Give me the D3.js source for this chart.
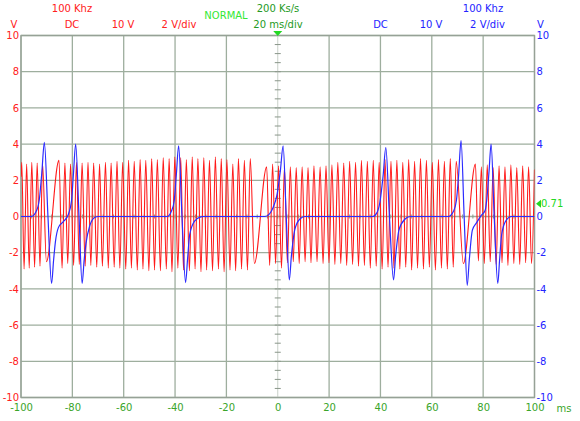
<!DOCTYPE html>
<html>
<head>
<meta charset="utf-8">
<script src="https://cdn.jsdelivr.net/npm/d3@7"></script>
<style>
  body { margin: 0; background: #fff; }
  svg { display: block; font-family: "DejaVu Sans", Verdana, sans-serif; font-size: 10px; }
</style>
</head>
<body>
<svg width="580" height="421"></svg>
<script>
// ticks
var voltTicks = [-10, -8, -6, -4, -2, 0, 2, 4, 6, 8, 10];
var timeTicks = [-100, -80, -60, -40, -20, 0, 20, 40, 60, 80, 100];

// channel 1 (red) - peaks and troughs, [ms, V]
var redTrace = [
  [-100, 2.2], [-99.7, 3.0], [-98.8, -2.9], [-97.8, 2.9], [-96.8, -2.85], [-95.8, 3.0],
  [-94.7, -2.8], [-93.7, 2.95], [-92.6, -2.75], [-91.6, 2.9], [-90.1, -2.5],
  [-85.2, 3.1], [-84.0, -2.85], [-82.9, 2.95], [-81.8, -2.6], [-80.7, 2.9], [-79.5, -2.7],
  [-78.4, 3.0], [-77.3, -2.65], [-76.2, 2.95], [-75.0, -2.75], [-73.9, 3.0], [-72.8, -2.7],
  [-71.7, 2.95], [-70.5, -2.8], [-69.4, 2.9], [-68.3, -2.75], [-67.1, 3.0], [-66.0, -2.85],
  [-64.9, 2.95], [-63.7, -2.8], [-62.6, 3.05], [-61.5, -2.85], [-60.4, 3.0], [-59.2, -2.9],
  [-58.1, 3.1], [-57.0, -2.85], [-55.9, 3.05], [-54.7, -2.95], [-53.6, 3.15], [-52.5, -2.9],
  [-51.4, 3.1], [-50.2, -3.0], [-49.1, 3.2], [-48.0, -2.95], [-46.9, 3.15], [-45.7, -3.0],
  [-44.6, 3.25], [-43.4, -2.9], [-42.3, 3.2], [-41.2, -3.05], [-40.1, 3.3], [-38.9, -2.85],
  [-37.8, 3.25], [-36.7, -2.95], [-35.6, 3.15], [-34.4, -3.0], [-33.3, 3.3], [-32.2, -2.9],
  [-31.1, 3.2], [-29.9, -3.05], [-28.8, 3.25], [-27.7, -2.95], [-26.6, 3.1], [-25.4, -3.0],
  [-24.3, 3.3], [-23.1, -2.9], [-22.0, 3.2], [-20.9, -3.05], [-19.8, 3.15], [-18.6, -2.95],
  [-17.5, 2.9], [-16.4, -3.0], [-15.3, 3.2], [-14.1, -2.9], [-13.0, 3.1], [-11.8, -2.95],
  [-10.7, 3.2], [-9.1, -2.6],
  [-4.3, 2.75], [-3.15, -2.7], [-2.0, 2.9], [-0.85, -2.6], [0.3, 2.8], [1.45, -2.85],
  [2.6, 2.7], [3.75, -2.55], [4.9, 2.75], [6.05, -2.5], [7.2, 2.7], [8.35, -2.6],
  [9.5, 2.75], [10.65, -2.5], [11.8, 2.7], [12.95, -2.55], [14.1, 2.8], [15.3, -2.5],
  [16.5, 2.75], [17.65, -2.6], [18.8, 2.8], [19.95, -2.55], [21.1, 2.85], [22.25, -2.65],
  [23.4, 3.0], [24.55, -2.6], [25.7, 2.95], [26.85, -2.7], [28.0, 3.05], [29.15, -2.65],
  [30.3, 3.0], [31.45, -2.75], [32.6, 3.1], [33.75, -2.7], [34.9, 3.05], [36.05, -2.85],
  [37.2, 3.1], [38.35, -2.75], [39.5, 3.0], [40.65, -2.9], [41.8, 3.15], [42.95, -2.8],
  [44.1, 3.05], [45.25, -2.85], [46.4, 3.1], [47.55, -2.9], [48.7, 3.0], [49.85, -2.8],
  [51.0, 3.15], [52.15, -2.95], [53.3, 3.05], [54.45, -2.85], [55.6, 3.2], [56.75, -2.9],
  [57.9, 3.1], [59.05, -2.8], [60.2, 3.0], [61.4, -2.95], [62.6, 3.15], [63.75, -2.85],
  [64.9, 3.05], [66.05, -2.9], [67.2, 3.2], [68.35, -2.8], [69.5, 3.05], [72.3, -2.6],
  [77.0, 2.9], [78.15, -2.45], [79.3, 2.75], [80.45, -2.6], [81.6, 2.85], [82.75, -2.5],
  [83.9, 2.7], [85.05, -2.65], [86.2, 2.8], [87.35, -2.55], [88.5, 2.75], [89.65, -2.7],
  [90.8, 2.85], [91.95, -2.6], [93.1, 2.7], [94.25, -2.65], [95.4, 2.8], [96.55, -2.55],
  [97.7, 2.75], [98.85, -2.6], [100, 2.6]
];

// channel 2 (blue) - spikes, [ms, V]
var blueTrace = [
  [-100, 0], [-96, 0], [-94.2, 0.25], [-92.9, 0.9], [-91.9, 2.4], [-90.9, 4.1], [-89.5, 0],
  [-88.1, -3.7], [-87.3, -2.4], [-86.6, -1.4], [-85.4, -0.6], [-83.6, -0.3], [-81.6, 0.1],
  [-80.3, 0.9], [-79.6, 2.3], [-78.7, 4.0], [-77.4, 0], [-76.2, -3.7], [-75.4, -2.4],
  [-74.7, -1.5], [-73.2, -0.5], [-71.3, -0.05], [-70, 0],
  [-43, 0], [-41.4, 0.3], [-40.3, 0.9], [-39.5, 2.3], [-38.6, 3.9], [-37.3, 0], [-35.9, -3.65],
  [-35.1, -2.3], [-34.3, -1.0], [-32.4, -0.25], [-30, -0.02], [-29, 0],
  [-5, 0], [-3.2, 0.15], [-1.8, 0.5], [-0.3, 1.2], [1.0, 2.5], [2.1, 3.9], [3.3, 0],
  [4.5, -3.5], [5.3, -2.2], [6.6, -0.75], [8.5, -0.15], [10.5, 0],
  [37, 0], [38.6, 0.2], [39.8, 0.8], [41.0, 2.2], [42.1, 3.8], [43.5, 0], [45.1, -3.5],
  [45.9, -2.2], [47.2, -0.75], [49.5, -0.15], [51.5, 0],
  [66.5, 0], [68.5, 0.3], [69.6, 0.9], [70.4, 2.2], [71.4, 4.2], [72.6, 0], [73.8, -3.8],
  [74.6, -2.4], [75.8, -0.75], [77.4, -0.35], [79.2, 0.05], [80.8, 0.35], [81.6, 1.2],
  [82.3, 2.5], [83.1, 4.0], [84.3, 0], [85.7, -3.7], [86.4, -2.4], [87.2, -1.0],
  [89, -0.2], [91, 0], [100, 0]
];

var triggerLevel = 0.71;

var svg = d3.select("svg");

var x = d3.scaleLinear().domain([-100, 100]).range([21, 534.5]);
var y = d3.scaleLinear().domain([-10, 10]).range([397.5, 35.5]);

// plain hyphen for negative numbers, like the scope screen
var plain = function(d) { return String(d); };

// GRID
var grid = svg.append("g").attr("class", "grid");

grid.selectAll(".vline")
  .data(timeTicks.filter(function(d) { return d != 0; }))
  .enter().append("line")
  .attr("x1", function(d) { return x(d); })
  .attr("x2", function(d) { return x(d); })
  .attr("y1", y(10)).attr("y2", y(-10))
  .attr("stroke", "#9eae9e").attr("stroke-width", 1.3);

grid.selectAll(".hline")
  .data(voltTicks)
  .enter().append("line")
  .attr("x1", x(-100)).attr("x2", x(100))
  .attr("y1", function(d) { return y(d); })
  .attr("y2", function(d) { return y(d); })
  .attr("stroke", "#9eae9e").attr("stroke-width", 1.3);

// centre vertical line with minor ticks
grid.append("line")
  .attr("x1", x(0)).attr("x2", x(0))
  .attr("y1", y(10)).attr("y2", y(-10))
  .attr("stroke", "#c8d0c8").attr("stroke-width", 1);

grid.selectAll(".vtick")
  .data(d3.range(-10, 10.01, 0.5))
  .enter().append("line")
  .attr("x1", x(0) - 3).attr("x2", x(0) + 3)
  .attr("y1", function(d) { return y(d); })
  .attr("y2", function(d) { return y(d); })
  .attr("stroke", "#8a968a").attr("stroke-width", 1);

grid.selectAll(".htick")
  .data(d3.range(-100, 100.01, 4))
  .enter().append("line")
  .attr("x1", function(d) { return x(d); })
  .attr("x2", function(d) { return x(d); })
  .attr("y1", y(0) - 2).attr("y2", y(0) + 2)
  .attr("stroke", "#8a968a").attr("stroke-width", 1);

// border
svg.append("rect")
  .attr("x", x(-100)).attr("y", y(10))
  .attr("width", x(100) - x(-100)).attr("height", y(-10) - y(10))
  .attr("fill", "none").attr("stroke", "#96a196").attr("stroke-width", 1.3);

// TRACES
svg.append("clipPath").attr("id", "plot")
  .append("rect")
  .attr("x", x(-100)).attr("y", y(10))
  .attr("width", x(100) - x(-100)).attr("height", y(-10) - y(10));

var line = d3.line()
  .x(function(d) { return x(d[0]); })
  .y(function(d) { return y(d[1]); })
  .curve(d3.curveMonotoneX);

svg.append("path")
  .datum(redTrace)
  .attr("clip-path", "url(#plot)")
  .attr("d", line)
  .attr("fill", "none")
  .attr("stroke", "#ff1a1a")
  .attr("stroke-width", 1.1);

svg.append("path")
  .datum(blueTrace)
  .attr("clip-path", "url(#plot)")
  .attr("d", line)
  .attr("fill", "none")
  .attr("stroke", "#2b2bff")
  .attr("stroke-width", 1.2);

// AXES
var leftAxis = d3.axisLeft(y).tickValues(voltTicks).tickFormat(plain).tickSize(0).tickPadding(2);
var gl = svg.append("g").attr("transform", "translate(" + x(-100) + ",0)").call(leftAxis);
gl.select(".domain").remove();
gl.selectAll("text").attr("fill", "#ff2020").style("font-family", "DejaVu Sans").style("font-size", "10px");

var rightAxis = d3.axisRight(y).tickValues(voltTicks).tickFormat(plain).tickSize(0).tickPadding(2);
var gr = svg.append("g").attr("transform", "translate(" + x(100) + ",0)").call(rightAxis);
gr.select(".domain").remove();
gr.selectAll("text").attr("fill", "#2323ff").style("font-family", "DejaVu Sans").style("font-size", "10px");

var bottomAxis = d3.axisBottom(x).tickValues(timeTicks).tickFormat(plain).tickSize(0).tickPadding(6);
var gb = svg.append("g").attr("transform", "translate(0," + y(-10) + ")").call(bottomAxis);
gb.select(".domain").remove();
gb.selectAll("text").attr("fill", "#3aa52a").style("font-family", "DejaVu Sans").style("font-size", "10px");

svg.append("text").attr("x", 564).attr("y", 408).attr("dy", "0.35em")
  .attr("text-anchor", "middle").attr("fill", "#3aa52a").text("ms");

// HEADER
function label(txt, cx, cy, color) {
  svg.append("text")
    .attr("x", cx).attr("y", cy).attr("dy", "0.35em")
    .attr("text-anchor", "middle")
    .attr("fill", color)
    .text(txt);
}

label("100 Khz", 72, 8, "#ff2020");
label("V", 14, 24, "#ff2020");
label("DC", 72, 24, "#ff2020");
label("10 V", 123, 24, "#ff2020");
label("2 V/div", 179, 24, "#ff2020");

label("NORMAL", 226, 15, "#33e833");
label("200 Ks/s", 278, 8, "#249a24");
label("20 ms/div", 278, 24, "#249a24");

label("100 Khz", 483, 8, "#2323ff");
label("DC", 380.5, 24, "#2323ff");
label("10 V", 431, 24, "#2323ff");
label("2 V/div", 487.5, 24, "#2323ff");
label("V", 540.5, 24, "#2323ff");

// trigger markers
svg.append("path")
  .attr("d", "M" + (x(0) - 4.5) + "," + (y(10) - 4.5) + "L" + (x(0) + 4.5) + "," + (y(10) - 4.5) + "L" + x(0) + "," + (y(10) + 0.5) + "Z")
  .attr("fill", "#22d822");

var ty = y(triggerLevel);
svg.append("path")
  .attr("d", "M" + (x(100) + 1.5) + "," + ty + "L" + (x(100) + 6.5) + "," + (ty - 4) + "L" + (x(100) + 6.5) + "," + (ty + 4) + "Z")
  .attr("fill", "#22d822");
svg.append("text")
  .attr("x", x(100) + 6.5).attr("y", ty).attr("dy", "0.35em")
  .attr("fill", "#22d822")
  .text(triggerLevel.toFixed(2));
</script>
</body>
</html>
